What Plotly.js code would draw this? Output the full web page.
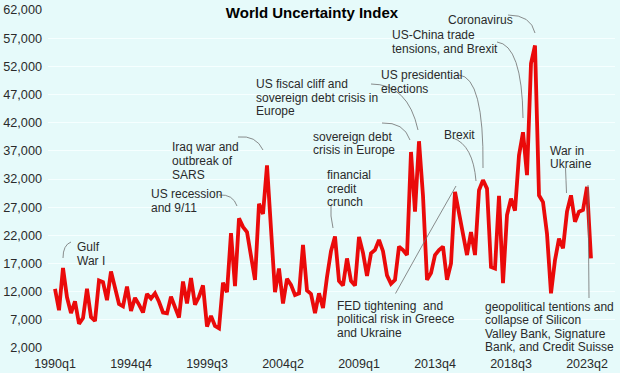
<!DOCTYPE html>
<html>
<head>
<meta charset="utf-8">
<script src="https://cdn.plot.ly/plotly-3.0.1.min.js"></script>
<style>html,body{margin:0;padding:0;background:#e6fafa;}#chart{width:620px;height:373px;}</style>
</head>
<body>
<div id="chart"></div>
<script>
// ---- Data ----
const startYear = 1990;
const nQuarters = 135; // 1990q1 .. 2023q3
const quarters = [];
for (let k = 0; k < nQuarters; k++) {
  quarters.push((startYear + Math.floor(k / 4)) + 'q' + (k % 4 + 1));
}
const wui = [
  12500, 8700, 16200, 11000, 8200, 10300, 6300, 7300, 12500, 7500,
  6800, 14000, 13700, 10500, 15600, 12500, 9800, 9400, 12900, 8600,
  10900, 9700, 8300, 11600, 10800, 11700, 10200, 8300, 8150, 11100,
  9000, 7400, 13800, 9900, 14400, 9700, 11100, 13100, 5800, 7700,
  5900, 5500, 13600, 11900, 22400, 13000, 25000, 23500, 22600, 18200,
  14100, 27600, 25800, 34400, 22500, 11900, 16100, 9900, 14300, 13200,
  11400, 11700, 20300, 12200, 11600, 8200, 11700, 9100, 14600, 19200,
  21800, 13900, 13100, 17900, 13900, 13100, 21700, 18900, 14800, 18800,
  19400, 21200, 19200, 14900, 13400, 14100, 20000, 19400, 18500, 36800,
  26200, 38700, 29000, 14100, 15300, 18500, 19400, 20000, 14100, 17000,
  29700, 25900, 22300, 18500, 22600, 18500, 30000, 31800, 30300, 16400,
  16100, 29000, 13500, 25600, 28500, 26400, 36200, 40300, 32700, 52500,
  55700, 29100, 27900, 22300, 11700, 17600, 21400, 19700, 26200, 29100,
  24400, 26200, 26500, 30600, 17900
];
const xTickLabels = ['1990q1','1994q4','1999q3','2004q2','2009q1','2013q4','2018q3','2023q2'];
const yTickValues = [2000,7000,12000,17000,22000,27000,32000,37000,42000,47000,52000,57000,62000];

// ---- Layout helpers (pixel -> paper) ----
const W = 620, H = 373, ML = 48, MR = 5, MT = 10, MB = 25;
const PW = W - ML - MR, PH = H - MT - MB;
const fx = px => (px - ML) / PW;
const fy = py => (H - MB - py) / PH;

const FONT = 'Liberation Sans, Arial, Helvetica, sans-serif';
const TXT = '#2a2a2a';

const labels = [
  ['Gulf', 76, 247], ['War I', 76, 260.5],
  ['US recession', 150, 194], ['and 9/11', 150, 207.5],
  ['Iraq war and', 170.5, 147], ['outbreak of', 170.5, 161], ['SARS', 170.5, 175],
  ['US fiscal cliff and', 255, 84], ['sovereign debt crisis in', 255, 97.5], ['Europe', 255, 111],
  ['sovereign debt', 312, 136.7], ['crisis in Europe', 312, 150],
  ['financial', 325.5, 175], ['credit', 325.5, 188.5], ['crunch', 325.5, 202],
  ['US presidential', 380, 75], ['elections', 380, 88.5],
  ['US-China trade', 390.5, 35], ['tensions, and Brexit', 390.5, 49],
  ['Coronavirus', 447, 20],
  ['Brexit', 443, 135],
  ['War in', 549, 151], ['Ukraine', 549, 164.5],
  ['FED tightening  and', 336, 305.5], ['political risk in Greece', 336, 319], ['and Ukraine', 336, 332.5],
  ['geopolitical tentions and', 484, 307], ['collapse of Silicon', 484, 320.3], ['Valley Bank, Signature', 484, 333.6], ['Bank, and Credit Suisse', 484, 347]
];

const annotations = labels.map(([t, x, y]) => ({
  text: t, xref: 'paper', yref: 'paper', x: fx(x), y: fy(y),
  xanchor: 'left', yanchor: 'middle', showarrow: false, borderpad: 0,
  font: {family: FONT, size: 12, color: TXT}
}));

// connector curves in pixel coordinates: [x0,y0, cx,cy, x1,y1]
const curves = [
  [71,242, 63,245, 63,258],
  [219,195, 233,194, 237,206],
  [238,137, 256,135, 263,150],
  [371,84, 408,84, 418,130],
  [382,123, 404,122, 410,140],
  [331,206, 330,215, 333,228],
  [459,75, 484,77, 483,168],
  [497,42, 522,45, 523,118],
  [508,15, 531,15, 535,33],
  [453,138, 473,145, 476,181],
  [565.5,168, 566,180, 566.5,193],
  [588,185, 588.5,240, 589,298],
  [395.5,293.5, 425,240, 456,186]
];
const shapes = curves.map(c => ({
  type: 'path', xref: 'paper', yref: 'paper',
  path: 'M ' + fx(c[0]) + ' ' + fy(c[1]) + ' Q ' + fx(c[2]) + ' ' + fy(c[3]) + ' ' + fx(c[4]) + ' ' + fy(c[5]),
  line: {color: '#6e6e6e', width: 0.8}
}));

const trace = {
  x: quarters, y: wui, type: 'scatter', mode: 'lines',
  line: {color: '#ea0a0a', width: 3.8},
  hoverinfo: 'skip'
};

const layout = {
  width: W, height: H,
  margin: {l: ML, r: MR, t: MT, b: MB, pad: 0},
  paper_bgcolor: '#e6fafa', plot_bgcolor: '#e6fafa',
  showlegend: false,
  title: {text: '<b>World Uncertainty Index</b>', x: 312 / W, y: 1 - 13 / H,
          xanchor: 'center', yanchor: 'middle', font: {family: FONT, size: 15, color: '#000'}},
  xaxis: {type: 'category', range: [-1.75, 140], tickmode: 'array', tickvals: xTickLabels, ticktext: xTickLabels,
          showgrid: false, zeroline: false, showline: false, ticks: '', ticklabelstandoff: 6,
          tickfont: {family: FONT, size: 12.5, color: TXT}, fixedrange: true},
  yaxis: {range: [2000, 62000], tickmode: 'array', tickvals: yTickValues, tickformat: ',',
          showgrid: true, gridcolor: '#f6ffff', gridwidth: 1, zeroline: false, showline: false, ticks: '',
          ticklabelstandoff: 5, tickfont: {family: FONT, size: 12.7, color: TXT}, fixedrange: true},
  annotations: annotations,
  shapes: shapes
};

Plotly.newPlot('chart', [trace], layout, {staticPlot: true, displayModeBar: false});
</script>
</body>
</html>
